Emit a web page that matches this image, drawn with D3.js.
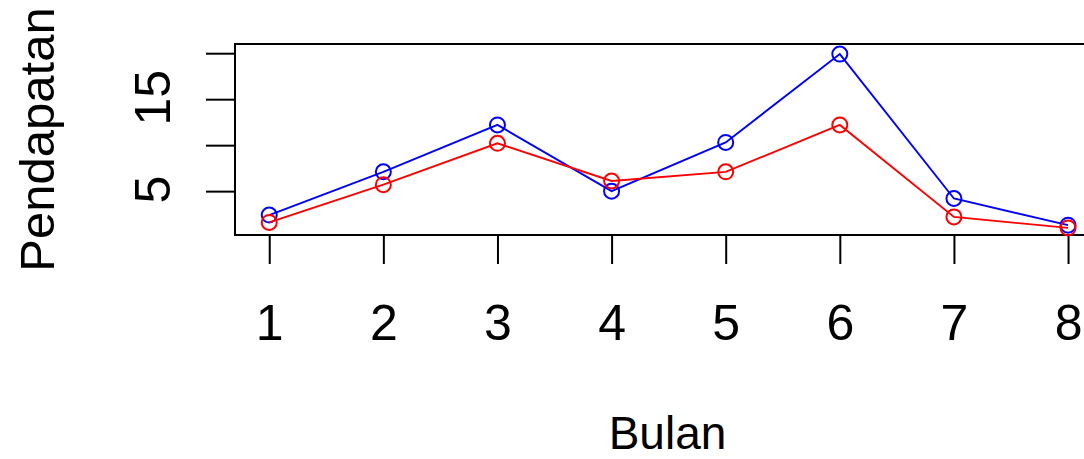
<!DOCTYPE html>
<html>
<head>
<meta charset="utf-8">
<script src="https://cdn.jsdelivr.net/npm/d3@7"></script>
<style>
  html, body { margin: 0; padding: 0; background: #fff; }
  svg { display: block; }
  text { font-family: "Liberation Sans", Arial, sans-serif; fill: #000; }
</style>
</head>
<body>
<svg id="chart" width="1084" height="459"></svg>
<script>
// ---- data ----
const months = [1, 2, 3, 4, 5, 6, 7, 8];
const seriesBlue = [2.4, 7.1, 12.2, 5.0, 10.3, 19.9, 4.2, 1.3];
const seriesRed  = [1.6, 5.7, 10.2, 6.1, 7.1, 12.2, 2.2, 1.0];
const xTickLabels = ["1", "2", "3", "4", "5", "6", "7", "8"];
const yTicks = [5, 10, 15, 20];
const yTickLabels = ["5", "", "15", ""];
const xLimits = [0.7, 8.28];
const yLimits = [0.23, 21.0];
const xTitle = "Bulan";
const yTitle = "Pendapatan";

// ---- layout ----
const svg = d3.select("#chart");
const plot = { left: 235, right: 1100, top: 44, bottom: 235 };
const tickFont = 50;
const titleFont = 47;

const x = d3.scaleLinear().domain(xLimits).range([plot.left, plot.right]);
const y = d3.scaleLinear().domain(yLimits).range([plot.bottom, plot.top]);

// box
svg.append("rect")
  .attr("x", plot.left).attr("y", plot.top)
  .attr("width", plot.right - plot.left).attr("height", plot.bottom - plot.top)
  .attr("fill", "none").attr("stroke", "#000").attr("stroke-width", 2);

// x axis
const xAxis = d3.axisBottom(x)
  .tickValues(months)
  .tickFormat((d, i) => xTickLabels[i])
  .tickSize(29)
  .tickPadding(0);
const gx = svg.append("g").attr("transform", `translate(0,${plot.bottom})`).call(xAxis);
gx.select(".domain").remove();
gx.selectAll(".tick line").attr("stroke", "#000").attr("stroke-width", 2);
gx.selectAll(".tick text")
  .attr("y", 104.5).attr("dy", null)
  .style("font-size", tickFont + "px")
  .attr("font-family", null);

// y axis
const yAxis = d3.axisLeft(y)
  .tickValues(yTicks)
  .tickFormat((d, i) => yTickLabels[i])
  .tickSize(29)
  .tickPadding(0);
const gy = svg.append("g").attr("transform", `translate(${plot.left},0)`).call(yAxis);
gy.select(".domain").remove();
gy.selectAll(".tick line").attr("stroke", "#000").attr("stroke-width", 2);
gy.selectAll(".tick text")
  .attr("x", null).attr("dy", null)
  .attr("text-anchor", "middle")
  .attr("font-family", null)
  .style("font-size", tickFont + "px")
  .attr("transform", "translate(-65,-2) rotate(-90)");

// axis titles
svg.append("text")
  .attr("x", (plot.left + plot.right) / 2).attr("y", 449)
  .attr("text-anchor", "middle")
  .style("font-size", (titleFont - 1) + "px")
  .text(xTitle);
svg.append("text")
  .attr("transform", `translate(54,${(plot.top + plot.bottom) / 2}) rotate(-90)`)
  .attr("text-anchor", "middle")
  .style("font-size", (titleFont + 2) + "px")
  .text(yTitle);

// series
const line = d3.line().x((d, i) => x(months[i])).y(d => y(d));
function drawSeries(values, color) {
  const g = svg.append("g");
  g.append("path")
    .attr("d", line(values))
    .attr("fill", "none").attr("stroke", color).attr("stroke-width", 1.9);
  g.selectAll("circle").data(values).join("circle")
    .attr("cx", (d, i) => x(months[i]))
    .attr("cy", d => y(d))
    .attr("r", 7.5)
    .attr("fill", "none").attr("stroke", color).attr("stroke-width", 2);
}
drawSeries(seriesBlue, "#0000ff");
drawSeries(seriesRed, "#ff0000");
</script>
</body>
</html>
